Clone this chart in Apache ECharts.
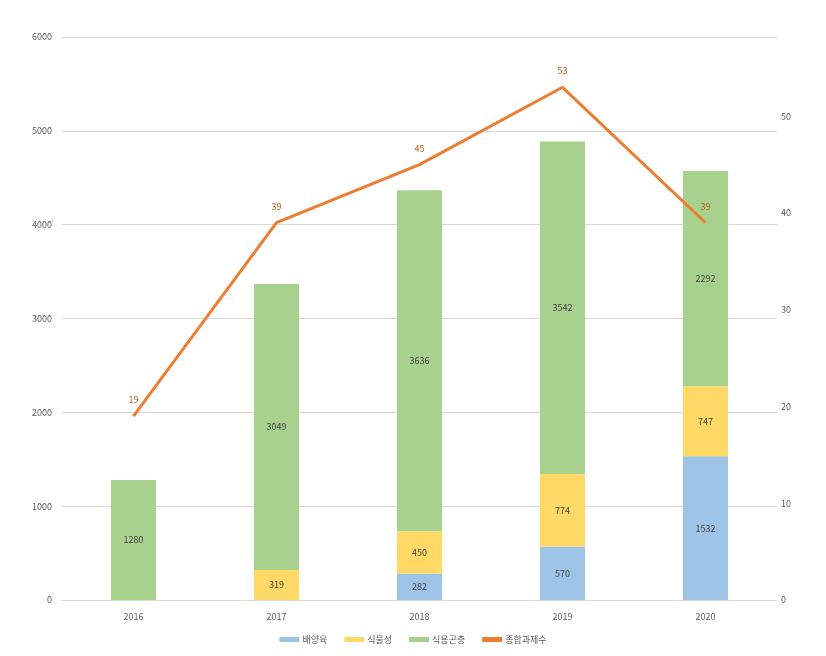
<!DOCTYPE html>
<html><head><meta charset="utf-8">
<script src="https://cdn.jsdelivr.net/npm/echarts@6/dist/echarts.min.js"></script>
<style>html,body{margin:0;padding:0;background:#fff}#c{width:826px;height:656px}</style>
</head><body><div id="c"></div>
<script>
const categories = ['2016','2017','2018','2019','2020'];
const cultured = [0, 0, 282, 570, 1532];
const plantBased = [0, 319, 450, 774, 747];
const insects = [1280, 3049, 3636, 3542, 2292];
const projects = [19, 39, 45, 53, 39];
const leftTicks = [0, 1000, 2000, 3000, 4000, 5000, 6000];

const font = '"Noto Sans CJK KR", "Noto Sans", sans-serif';
const barLabel = {
  show: true, position: 'inside', color: '#404040', fontSize: 9, fontFamily: font,
  formatter: p => p.value === 0 ? '' : p.value
};
const chart = echarts.init(document.getElementById('c'));
chart.setOption({
  animation: false,
  textStyle: {fontFamily: font},
  grid: {left: 62, right: 49, top: 37, bottom: 56, containLabel: false},
  legend: {
    bottom: 7, left: 'center', itemWidth: 20, itemHeight: 5, itemGap: 17,
    textStyle: {fontSize: 9, color: '#595959', fontFamily: font, padding: [0, 0, 0, -2]},
    data: [
      {name: '배양육', icon: 'rect'},
      {name: '식물성', icon: 'rect'},
      {name: '식용곤충', icon: 'rect'},
      {name: '종합과제수', icon: 'rect'}
    ]
  },
  xAxis: {
    type: 'category', data: categories,
    axisLine: {show: true, lineStyle: {color: '#d9d9d9'}},
    axisTick: {show: false},
    axisLabel: {color: '#595959', fontSize: 9, margin: 12}
  },
  yAxis: [
    {
      type: 'value', min: leftTicks[0], max: leftTicks[leftTicks.length - 1], interval: 1000,
      axisLine: {show: false}, axisTick: {show: false},
      axisLabel: {color: '#595959', fontSize: 9, margin: 10, formatter: v => String(v)},
      splitLine: {lineStyle: {color: '#d9d9d9'}}
    },
    {
      type: 'value', min: 0, max: 58.2, interval: 10,
      axisLine: {show: false}, axisTick: {show: false},
      axisLabel: {color: '#595959', fontSize: 9, margin: 4, showMaxLabel: false, formatter: v => String(v)},
      splitLine: {show: false}
    }
  ],
  series: [
    {name: '배양육', type: 'bar', stack: 'a', data: cultured, barWidth: 45,
      itemStyle: {color: '#9DC3E6'}, label: barLabel},
    {name: '식물성', type: 'bar', stack: 'a', data: plantBased, barWidth: 45,
      itemStyle: {color: '#FFD966'}, label: barLabel},
    {name: '식용곤충', type: 'bar', stack: 'a', data: insects, barWidth: 45,
      itemStyle: {color: '#A9D18E'}, label: barLabel},
    {name: '종합과제수', type: 'line', yAxisIndex: 1, data: projects,
      showSymbol: true, symbol: 'circle', symbolSize: 0.01, lineStyle: {color: '#ED7D31', width: 3},
      itemStyle: {color: '#ED7D31'},
      label: {show: true, position: 'top', distance: 12, color: '#C55A11', fontSize: 9}}
  ]
});
</script></body></html>
